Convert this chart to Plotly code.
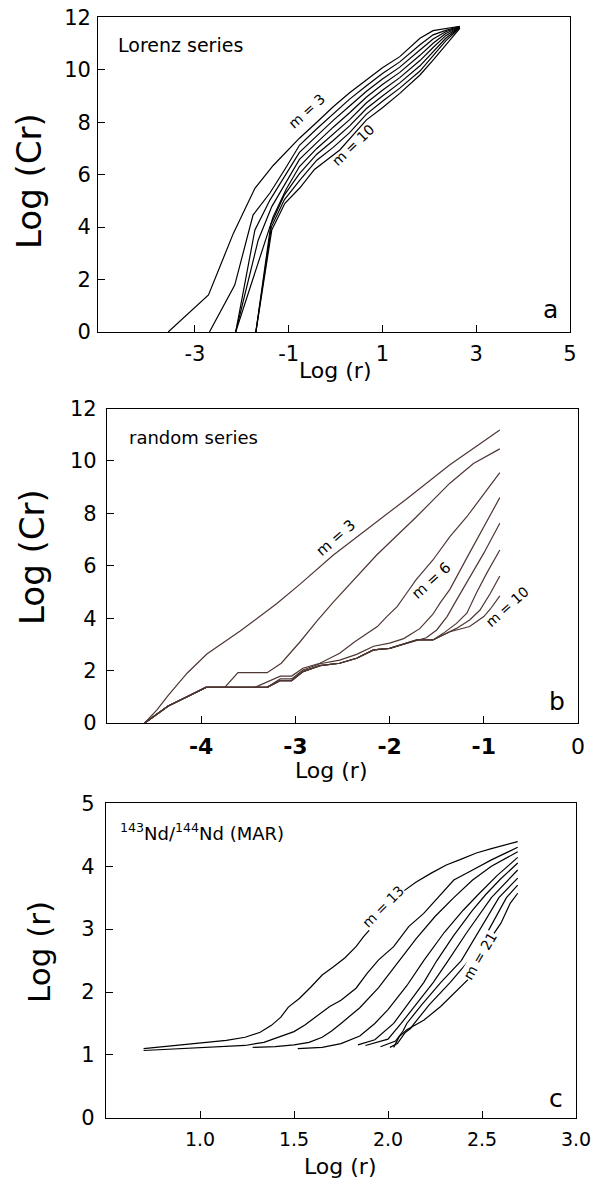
import plotly.graph_objects as go

W, H = 592, 1189
FONT = "DejaVu Sans"

# ---------------- Panel a: Lorenz series (m = 3 .. 10) ----------------
a_m3_x = [-3.57, -2.71, -2.18, -1.72, -1.33, -0.77, -0.4, -0.05, 0.3, 0.66, 1.0, 1.37, 1.8, 2.08, 2.35, 2.65]
a_m3_y = [0, 1.41, 3.76, 5.48, 6.35, 7.39, 8.0, 8.59, 9.12, 9.61, 10.08, 10.5, 11.2, 11.49, 11.58, 11.66]
a_m4_x = [-2.69, -2.15, -1.76, -1.4, -1.1, -0.77, -0.4, -0.05, 0.3, 0.66, 1.0, 1.37, 1.8, 2.08, 2.35, 2.65]
a_m4_y = [0, 1.79, 4.46, 5.3, 6.15, 7.12, 7.75, 8.33, 8.88, 9.39, 9.86, 10.3, 10.95, 11.33, 11.5, 11.65]
a_m5_x = [-2.13, -1.72, -1.4, -1.1, -0.77, -0.4, -0.05, 0.3, 0.66, 1.0, 1.37, 1.8, 2.08, 2.35, 2.65]
a_m5_y = [0, 3.89, 5.03, 5.9, 6.85, 7.48, 8.07, 8.62, 9.18, 9.65, 10.1, 10.75, 11.17, 11.45, 11.64]
a_m6_x = [-2.13, -1.65, -1.36, -1.05, -0.77, -0.4, -0.05, 0.3, 0.66, 1.0, 1.37, 1.8, 2.08, 2.35, 2.65]
a_m6_y = [0, 3.5, 4.78, 5.7, 6.58, 7.22, 7.81, 8.36, 8.96, 9.44, 9.9, 10.55, 11.01, 11.38, 11.63]
a_m7_x = [-2.13, -1.54, -1.33, -1.05, -0.77, -0.4, -0.05, 0.3, 0.66, 1.0, 1.37, 1.8, 2.08, 2.35, 2.65]
a_m7_y = [0, 3.25, 4.4, 5.45, 6.31, 7.0, 7.55, 8.1, 8.74, 9.22, 9.7, 10.35, 10.85, 11.3, 11.62]
a_m8_x = [-1.7, -1.38, -1.1, -0.77, -0.4, -0.05, 0.3, 0.66, 1.0, 1.37, 1.8, 2.08, 2.35, 2.65]
a_m8_y = [0, 4.1, 5.2, 6.04, 6.78, 7.3, 7.86, 8.52, 9.0, 9.5, 10.15, 10.69, 11.2, 11.61]
a_m9_x = [-1.7, -1.37, -1.09, -0.77, -0.4, -0.05, 0.3, 0.66, 1.0, 1.37, 1.8, 2.08, 2.35, 2.65]
a_m9_y = [0, 4.0, 5.05, 5.77, 6.55, 7.04, 7.6, 8.31, 8.8, 9.3, 9.95, 10.53, 11.1, 11.6]
a_m10_x = [-1.7, -1.36, -1.08, -0.76, -0.45, 0.09, 0.66, 1.0, 1.37, 1.8, 2.08, 2.37, 2.65]
a_m10_y = [0, 3.89, 4.91, 5.5, 6.2, 6.94, 8.09, 8.55, 9.1, 9.8, 10.37, 11.0, 11.58]
a_curves = [(a_m3_x, a_m3_y), (a_m4_x, a_m4_y), (a_m5_x, a_m5_y), (a_m6_x, a_m6_y),
            (a_m7_x, a_m7_y), (a_m8_x, a_m8_y), (a_m9_x, a_m9_y), (a_m10_x, a_m10_y)]
a_xticks = [-3, -1, 1, 3, 5]
a_xticktext = ["-3", "-1", "1", "3", "5"]
a_yticks = [0, 2, 4, 6, 8, 10, 12]

# ---------------- Panel b: random series (m = 3 .. 10) ----------------
b_common_x = [-4.6, -4.35, -4.15, -3.95, -3.3, -3.16, -3.04, -2.92, -2.74, -2.53, -2.35, -2.17, -2.0, -1.82, -1.71, -1.54]
b_common_y = [0, 0.65, 1.0, 1.36, 1.36, 1.62, 1.62, 1.96, 2.19, 2.28, 2.47, 2.79, 2.85, 3.04, 3.17, 3.17]
b_m3_x = [-4.6, -4.47, -4.35, -4.15, -3.94, -3.59, -3.2, -2.95, -2.6, -2.14, -1.82, -1.36, -1.1, -0.83]
b_m3_y = [0, 0.5, 1.05, 1.9, 2.63, 3.5, 4.55, 5.3, 6.4, 7.65, 8.55, 9.85, 10.5, 11.18]
b_m4_x = [-4.6, -4.35, -4.15, -3.95, -3.75, -3.61, -3.3, -3.15, -2.95, -2.77, -2.6, -2.45, -2.14, -1.72, -1.36, -1.11, -0.83]
b_m4_y = [0, 0.65, 1.0, 1.36, 1.36, 1.92, 1.92, 2.28, 3.1, 3.9, 4.6, 5.2, 6.4, 7.85, 9.15, 9.9, 10.46]
b_m5_x = [-4.6, -4.35, -4.15, -3.95, -3.43, -3.16, -3.04, -2.92, -2.74, -2.53, -2.37, -2.24, -2.13, -2.03, -1.92, -1.82, -1.72, -1.54, -1.36, -1.18, -1.0, -0.83]
b_m5_y = [0, 0.65, 1.0, 1.36, 1.36, 1.79, 1.79, 2.09, 2.28, 2.66, 3.1, 3.42, 3.68, 4.06, 4.44, 4.95, 5.46, 6.22, 7.11, 7.87, 8.72, 9.55]
b_m6_x = [-4.6, -4.35, -4.15, -3.95, -3.3, -3.16, -3.04, -2.92, -2.74, -2.53, -2.35, -2.17, -2.0, -1.85, -1.68, -1.54, -1.46, -1.36, -1.18, -1.08, -1.0, -0.83]
b_m6_y = [0, 0.65, 1.0, 1.36, 1.36, 1.68, 1.68, 2.02, 2.26, 2.4, 2.62, 2.93, 3.05, 3.22, 3.6, 4.15, 4.6, 5.1, 6.3, 6.95, 7.45, 8.6]
b_m7_tail_x = [-1.61, -1.5, -1.39, -1.29, -1.15, -1.0, -0.83]
b_m7_tail_y = [3.25, 3.55, 4.06, 4.69, 5.58, 6.48, 7.62]
b_m8_tail_x = [-1.43, -1.29, -1.18, -1.08, -0.97, -0.83]
b_m8_tail_y = [3.42, 3.8, 4.19, 4.95, 5.71, 6.6]
b_m9_tail_x = [-1.43, -1.29, -1.15, -1.04, -0.93, -0.83]
b_m9_tail_y = [3.36, 3.61, 3.93, 4.31, 4.95, 5.61]
b_m10_tail_x = [-1.36, -1.15, -1.0, -0.93, -0.83]
b_m10_tail_y = [3.48, 3.68, 4.06, 4.35, 4.85]
b_curves = [
    (b_m3_x, b_m3_y), (b_m4_x, b_m4_y), (b_m5_x, b_m5_y), (b_m6_x, b_m6_y),
    (b_common_x[:-1] + b_m7_tail_x, b_common_y[:-1] + b_m7_tail_y),
    (b_common_x + b_m8_tail_x, b_common_y + b_m8_tail_y),
    (b_common_x + b_m9_tail_x, b_common_y + b_m9_tail_y),
    (b_common_x + b_m10_tail_x, b_common_y + b_m10_tail_y),
]
b_xticks = [-4, -3, -2, -1, 0]
b_xticktext = ["<b>-4</b>", "<b>-3</b>", "<b>-2</b>", "<b>-1</b>", "0"]
b_yticks = [0, 2, 4, 6, 8, 10, 12]

# ---------------- Panel c: 143Nd/144Nd (MAR) (m = 13 .. 21) ----------------
c_m13_x = [0.70, 0.94, 1.14, 1.24, 1.32, 1.38, 1.43, 1.47, 1.53, 1.59, 1.65, 1.71, 1.77, 1.83, 1.87, 2.09, 2.15, 2.23, 2.31, 2.38, 2.47, 2.55, 2.69]
c_m13_y = [1.10, 1.17, 1.23, 1.28, 1.36, 1.47, 1.60, 1.76, 1.90, 2.08, 2.27, 2.40, 2.54, 2.72, 2.88, 3.62, 3.75, 3.89, 4.02, 4.10, 4.21, 4.28, 4.39]
c_m14_x = [0.70, 1.04, 1.24, 1.34, 1.42, 1.50, 1.56, 1.63, 1.69, 1.75, 1.83, 1.89, 1.95, 2.03, 2.11, 2.19, 2.27, 2.35, 2.45, 2.55, 2.69]
c_m14_y = [1.07, 1.12, 1.15, 1.20, 1.28, 1.37, 1.48, 1.63, 1.77, 1.87, 2.06, 2.30, 2.51, 2.72, 3.04, 3.25, 3.52, 3.78, 3.94, 4.10, 4.30]
c_m15_x = [1.28, 1.40, 1.50, 1.58, 1.65, 1.70, 1.75, 1.85, 1.95, 2.06, 2.15, 2.25, 2.35, 2.45, 2.55, 2.69]
c_m15_y = [1.12, 1.13, 1.16, 1.20, 1.28, 1.38, 1.50, 1.75, 2.07, 2.50, 2.85, 3.20, 3.50, 3.78, 4.00, 4.23]
c_m16_x = [1.52, 1.65, 1.75, 1.85, 1.93, 2.00, 2.10, 2.19, 2.30, 2.40, 2.48, 2.58, 2.69]
c_m16_y = [1.10, 1.12, 1.18, 1.30, 1.50, 1.72, 2.10, 2.50, 2.95, 3.30, 3.55, 3.85, 4.14]
c_m17_x = [1.84, 1.93, 2.03, 2.10, 2.19, 2.26, 2.35, 2.45, 2.52, 2.60, 2.69]
c_m17_y = [1.16, 1.24, 1.50, 1.78, 2.15, 2.50, 2.90, 3.30, 3.55, 3.80, 4.05]
c_m18_x = [1.88, 2.00, 2.07, 2.15, 2.24, 2.32, 2.42, 2.55, 2.62, 2.69]
c_m18_y = [1.15, 1.25, 1.50, 1.80, 2.15, 2.50, 2.95, 3.50, 3.72, 3.94]
c_m19_x = [1.96, 2.04, 2.08, 2.10, 2.18, 2.28, 2.39, 2.48, 2.59, 2.69]
c_m19_y = [1.13, 1.22, 1.38, 1.50, 1.80, 2.15, 2.50, 2.95, 3.50, 3.81]
c_m20_x = [2.01, 2.05, 2.09, 2.12, 2.14, 2.22, 2.33, 2.43, 2.52, 2.63, 2.69]
c_m20_y = [1.12, 1.18, 1.35, 1.42, 1.50, 1.80, 2.15, 2.50, 2.90, 3.50, 3.70]
c_m21_x = [2.03, 2.06, 2.10, 2.19, 2.28, 2.37, 2.44, 2.49, 2.54, 2.60, 2.65, 2.69]
c_m21_y = [1.12, 1.29, 1.40, 1.55, 1.77, 2.03, 2.24, 2.50, 2.83, 3.09, 3.41, 3.57]
c_curves = [(c_m13_x, c_m13_y), (c_m14_x, c_m14_y), (c_m15_x, c_m15_y), (c_m16_x, c_m16_y),
            (c_m17_x, c_m17_y), (c_m18_x, c_m18_y), (c_m19_x, c_m19_y), (c_m20_x, c_m20_y),
            (c_m21_x, c_m21_y)]
c_xticks = [1.0, 1.5, 2.0, 2.5, 3.0]
c_xticktext = ["1.0", "1.5", "2.0", "2.5", "3.0"]
c_yticks = [0, 1, 2, 3, 4, 5]


def px(x):
    return x / W


def py(y):
    return 1 - y / H


fig = go.Figure()

for xs, ys in a_curves:
    fig.add_trace(go.Scatter(x=xs, y=ys, mode="lines", line=dict(color="black", width=1.2),
                             xaxis="x", yaxis="y", showlegend=False, hoverinfo="skip"))
for xs, ys in b_curves:
    fig.add_trace(go.Scatter(x=xs, y=ys, mode="lines", line=dict(color="#4e3632", width=1.2),
                             xaxis="x2", yaxis="y2", showlegend=False, hoverinfo="skip"))
for xs, ys in c_curves:
    fig.add_trace(go.Scatter(x=xs, y=ys, mode="lines", line=dict(color="black", width=1.2),
                             xaxis="x3", yaxis="y3", showlegend=False, hoverinfo="skip"))


def axis_style(size, **kw):
    d = dict(showline=True, linecolor="black", linewidth=1.3, mirror=True,
             ticks="inside", ticklen=7, tickcolor="black", tickwidth=1.2,
             showgrid=False, zeroline=False, fixedrange=True, automargin=False,
             ticklabeloverflow="allow",
             tickfont=dict(family=FONT, size=size, color="black"))
    d.update(kw)
    return d


fig.update_layout(
    template="none",
    width=W, height=H,
    margin=dict(l=0, r=0, t=0, b=0, pad=0, autoexpand=False),
    paper_bgcolor="white", plot_bgcolor="white",
    font=dict(family=FONT, color="black"),
    showlegend=False,
    xaxis=axis_style(21, domain=[px(98.3), px(570)], range=[-5.06, 5.0],
                     tickvals=a_xticks, ticktext=a_xticktext, anchor="y", ticklabelstandoff=3),
    yaxis=axis_style(21, domain=[py(332), py(17.3)], range=[0, 12],
                     tickvals=a_yticks, anchor="x", ticklabelstandoff=2),
    xaxis2=axis_style(22, domain=[px(107), px(578)], range=[-5, 0],
                      tickvals=b_xticks, ticktext=b_xticktext, anchor="y2", ticklabelstandoff=3),
    yaxis2=axis_style(21, domain=[py(723), py(408.5)], range=[0, 12],
                      tickvals=b_yticks, anchor="x2", ticklabelstandoff=5),
    xaxis3=axis_style(19, domain=[px(106), px(576)], range=[0.5, 3.0],
                      tickvals=c_xticks, ticktext=c_xticktext, anchor="y3", ticklabelstandoff=4),
    yaxis3=axis_style(21, domain=[py(1117.8), py(803.3)], range=[0, 5],
                      tickvals=c_yticks, anchor="x3", ticklabelstandoff=6),
)


def ann(text, x, y, size, angle=0, xanchor="center", bg=None):
    d = dict(text=text, x=px(x), y=py(y), xref="paper", yref="paper", showarrow=False,
             font=dict(family=FONT, size=size, color="black"), textangle=angle,
             xanchor=xanchor, yanchor="middle", borderpad=0)
    if bg:
        d["bgcolor"] = bg
    return d


annotations = [
    # panel a
    ann("Lorenz series", 117, 44.5, 19, xanchor="left"),
    ann("m = 3", 306.7, 110.7, 14, angle=-42),
    ann("m = 10", 353.3, 145, 14, angle=-44),
    ann("a", 550, 310, 25),
    ann("Log (r)", 335, 371, 22),
    ann("Log (Cr)", 29, 181, 34, angle=-90),
    # panel b
    ann("random series", 128, 437.5, 18, xanchor="left"),
    ann("m = 3", 335.7, 538.3, 15, angle=-41),
    ann("m = 6", 430.7, 580.7, 15, angle=-42),
    ann("m = 10", 506.7, 606.7, 14, angle=-42),
    ann("b", 557, 701, 25),
    ann("Log (r)", 331, 770, 22),
    ann("Log (Cr)", 32, 557, 34, angle=-90),
    # panel c
    ann("<sup>143</sup>Nd/<sup>144</sup>Nd (MAR)", 119, 832, 18, xanchor="left"),
    ann("m = 13", 382.6, 906.7, 14, angle=-45, bg="white"),
    ann("m = 21", 480, 956, 14, angle=-60, bg="white"),
    ann("c", 556, 1098, 25),
    ann("Log (r)", 340, 1166, 22),
    ann("Log (r)", 39, 952, 31, angle=-90),
]
fig.update_layout(annotations=annotations)

# the page's default 8 px body margin would push the 592x1189 figure off the window
fig.write_html("out.html",
               config={"displayModeBar": False},
               post_script="document.body.style.margin='0';document.body.style.overflow='hidden';")
